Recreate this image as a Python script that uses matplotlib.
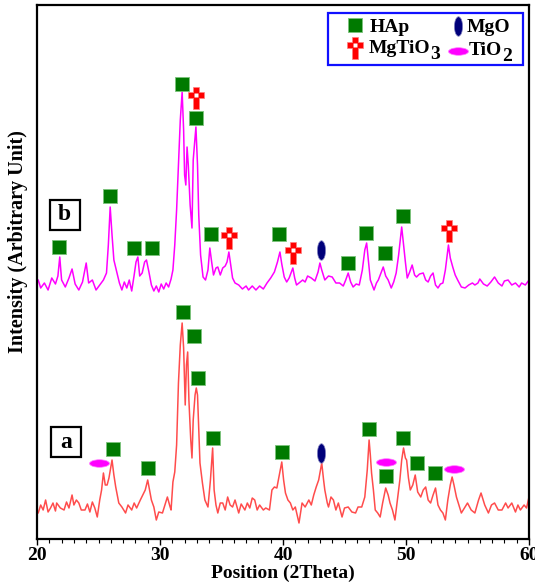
import matplotlib
matplotlib.use("Agg")
import matplotlib.pyplot as plt
from matplotlib.path import Path
from matplotlib.patches import Rectangle
import numpy as np

plt.rcParams["font.family"] = "serif"
plt.rcParams["font.serif"] = ["Liberation Serif", "DejaVu Serif"]
plt.rcParams["font.weight"] = "bold"
plt.rcParams["axes.labelweight"] = "bold"

# ---- pattern b (Mg/Ti doped) : 2theta, intensity above its own baseline ----
b_tt = [20.0, 20.1, 20.3, 20.6, 20.9, 21.2, 21.5, 21.7, 21.85, 22.0, 22.3, 22.6,
        22.85, 23.1, 23.4, 23.7, 24.0, 24.2, 24.5, 24.8, 25.1, 25.4, 25.65, 25.8,
        25.95, 26.1, 26.25, 26.5, 26.7, 26.9, 27.1, 27.3, 27.5, 27.7, 27.9, 28.05,
        28.2, 28.35, 28.55, 28.75, 28.9, 29.1, 29.3, 29.5, 29.7, 29.9, 30.1, 30.3,
        30.5, 30.7, 30.9, 31.05, 31.2, 31.35, 31.5, 31.65, 31.8, 31.92, 32.0, 32.1,
        32.2, 32.3, 32.45, 32.6, 32.7, 32.8, 32.92, 33.05, 33.15, 33.3, 33.5, 33.7,
        33.9, 34.05, 34.2, 34.35, 34.55, 34.7, 34.9, 35.1, 35.3, 35.45, 35.6, 35.75,
        35.9, 36.1, 36.4, 36.7, 37.0, 37.2, 37.5, 37.8, 38.1, 38.4, 38.7, 39.0,
        39.3, 39.55, 39.75, 39.9, 40.1, 40.3, 40.5, 40.8, 40.95, 41.1, 41.3, 41.6,
        41.8, 42.0, 42.3, 42.6, 42.85, 43.0, 43.15, 43.4, 43.7, 44.0, 44.3, 44.6,
        44.9, 45.1, 45.3, 45.5, 45.7, 45.95, 46.2, 46.45, 46.65, 46.8, 46.95, 47.1,
        47.4, 47.6, 47.75, 48.0, 48.15, 48.35, 48.55, 48.8, 49.0, 49.2, 49.4, 49.65,
        49.8, 49.95, 50.1, 50.3, 50.5, 50.7, 50.85, 51.1, 51.4, 51.6, 51.8, 52.0,
        52.2, 52.4, 52.6, 52.8, 53.0, 53.2, 53.45, 53.6, 53.8, 54.0, 54.2, 54.5,
        54.8, 55.1, 55.4, 55.6, 55.85, 56.0, 56.3, 56.6, 56.9, 57.2, 57.5, 57.8,
        58.0, 58.3, 58.6, 58.9, 59.2, 59.4, 59.7, 60.0]
b_int = [17, 20, 12, 17, 10, 22, 16, 24, 43, 20, 13, 22,
         31, 16, 10, 18, 37, 17, 20, 10, 15, 20, 27, 55,
         93, 65, 40, 27, 17, 10, 18, 12, 20, 9, 25, 38,
         43, 24, 27, 38, 40, 28, 15, 9, 14, 8, 16, 11,
         17, 13, 21, 30, 55, 90, 135, 180, 208, 170, 125, 115,
         153, 135, 95, 72, 140, 155, 173, 135, 85, 45, 23, 20,
         30, 52, 38, 25, 32, 33, 25, 32, 34, 38, 48, 35,
         22, 17, 15, 11, 14, 10, 14, 10, 14, 11, 17, 22,
         28, 38, 48, 36, 23, 18, 22, 32, 22, 15, 17, 20,
         18, 24, 22, 19, 28, 37, 30, 20, 24, 23, 17, 17,
         14, 20, 27, 18, 13, 16, 15, 30, 50, 57, 38, 20,
         10, 17, 20, 28, 33, 24, 20, 12, 18, 27, 45, 73,
         55, 38, 22, 28, 35, 25, 23, 26, 27, 20, 18, 24,
         27, 15, 12, 16, 17, 30, 55, 42, 33, 25, 20, 13,
         12, 15, 17, 15, 17, 21, 16, 14, 18, 23, 17, 14,
         19, 20, 15, 17, 13, 17, 15, 20]

# ---- pattern a ----
a_tt = [20.0, 20.1, 20.3, 20.5, 20.7, 20.9, 21.1, 21.3, 21.5, 21.6, 21.9, 22.2,
        22.4, 22.6, 22.85, 23.0, 23.2, 23.4, 23.6, 23.9, 24.1, 24.3, 24.5, 24.7,
        24.9, 25.1, 25.25, 25.4, 25.55, 25.7, 25.85, 26.1, 26.25, 26.4, 26.65, 26.9,
        27.2, 27.4, 27.7, 27.9, 28.1, 28.4, 28.6, 28.8, 29.0, 29.15, 29.3, 29.5,
        29.7, 29.9, 30.2, 30.4, 30.6, 30.8, 30.9, 31.05, 31.2, 31.35, 31.5, 31.65,
        31.8, 31.92, 32.05, 32.15, 32.25, 32.35, 32.5, 32.6, 32.7, 32.85, 32.95, 33.05,
        33.15, 33.25, 33.45, 33.65, 33.9, 34.1, 34.28, 34.4, 34.55, 34.7, 34.9, 35.1,
        35.3, 35.5, 35.7, 35.9, 36.1, 36.4, 36.6, 36.9, 37.1, 37.3, 37.5, 37.7,
        37.9, 38.1, 38.4, 38.6, 38.9, 39.1, 39.3, 39.5, 39.7, 39.9, 40.05, 40.2,
        40.4, 40.6, 40.8, 41.0, 41.3, 41.55, 41.8, 42.1, 42.3, 42.5, 42.7, 42.9,
        43.15, 43.3, 43.4, 43.6, 43.7, 43.9, 44.1, 44.3, 44.5, 44.8, 45.0, 45.3,
        45.6, 45.9, 46.1, 46.4, 46.65, 46.85, 47.0, 47.1, 47.2, 47.35, 47.5, 47.7,
        47.9, 48.1, 48.35, 48.55, 48.7, 48.9, 49.1, 49.3, 49.5, 49.65, 49.8, 49.95,
        50.05, 50.2, 50.35, 50.55, 50.75, 50.95, 51.2, 51.4, 51.6, 51.8, 52.0, 52.2,
        52.4, 52.6, 52.8, 53.0, 53.2, 53.4, 53.6, 53.75, 53.9, 54.1, 54.3, 54.5,
        54.8, 55.0, 55.3, 55.6, 55.9, 56.1, 56.4, 56.7, 56.95, 57.2, 57.5, 57.8,
        58.1, 58.3, 58.6, 58.9, 59.1, 59.3, 59.6, 59.8, 60.0]
a_int = [15, 12, 20, 15, 25, 13, 17, 22, 14, 22, 17, 15,
         23, 17, 30, 20, 25, 22, 15, 15, 21, 13, 23, 17,
         8, 25, 35, 52, 40, 40, 47, 65, 50, 38, 22, 18,
         12, 20, 15, 22, 17, 25, 30, 35, 45, 35, 25, 18,
         5, 13, 12, 20, 28, 19, 15, 43, 53, 80, 142, 180,
         202, 177, 120, 160, 173, 125, 85, 67, 105, 130, 137, 130,
         95, 62, 42, 25, 18, 45, 77, 35, 20, 12, 22, 22,
         15, 28, 20, 18, 25, 12, 21, 15, 22, 17, 27, 25,
         15, 20, 15, 17, 15, 35, 38, 37, 50, 63, 45, 32,
         25, 22, 15, 18, 2, 22, 18, 25, 20, 30, 38, 45,
         62, 45, 35, 22, 18, 28, 25, 15, 22, 8, 17, 18,
         13, 12, 18, 18, 28, 55, 85, 70, 52, 35, 15, 12,
         8, 22, 37, 30, 22, 15, 5, 25, 45, 65, 77, 67,
         65, 47, 35, 40, 50, 33, 28, 35, 38, 25, 22, 30,
         37, 20, 15, 12, 5, 25, 40, 48, 40, 28, 20, 12,
         18, 22, 15, 12, 25, 32, 20, 12, 20, 22, 15, 15,
         22, 17, 22, 13, 20, 15, 20, 17, 28]

# ---- phase markers: (2theta, height above baseline) ----
b_hap_tt = [21.76, 25.91, 27.91, 29.33, 31.81, 32.93, 34.12, 39.65, 45.31, 46.75, 48.29, 49.73]
b_hap_h = [53, 104, 52, 52, 216, 182, 66, 66, 37, 67, 47, 84]
b_mgtio3_tt = [32.93, 35.63, 40.81, 53.50]
b_mgtio3_h = [205, 65, 50, 72]
b_mgo_tt = [43.07]
b_mgo_h = [50]

a_hap_tt = [26.15, 29.0, 31.85, 32.79, 33.07, 34.28, 39.94, 46.99, 48.37, 49.78, 50.92, 52.36]
a_hap_h = [76, 57, 213, 189, 147, 87, 73, 96, 49, 87, 62, 52]
a_tio2_tt = [25.02, 48.35, 53.93]
a_tio2_h = [62, 63, 56]
a_mgo_tt = [43.09]
a_mgo_h = [72]

OFF_B, OFF_A = 239, 14
LINE_B, LINE_A = "#ff00ff", "#ff4c4c"
HAP_C, CROSS_C, MGO_C, TIO2_C = "#007a00", "#ff0000", "#00007a", "#ff00ff"

# marker shapes
sq_path = Path([(-0.55, -0.5), (0.55, -0.5), (0.55, 0.5), (-0.55, 0.5), (-0.55, -0.5)],
               [Path.MOVETO, Path.LINETO, Path.LINETO, Path.LINETO, Path.CLOSEPOLY])
cross_v = [(-0.5, 1.5), (0.5, 1.5), (0.5, 0.5), (1.5, 0.5), (1.5, -0.5), (0.5, -0.5),
           (0.5, -2.5), (-0.5, -2.5), (-0.5, -0.5), (-1.5, -0.5), (-1.5, 0.5),
           (-0.5, 0.5), (-0.5, 1.5)]
cross_path = Path(cross_v, [Path.MOVETO] + [Path.LINETO] * 11 + [Path.CLOSEPOLY])
circ = Path.unit_circle()
mgo_path = Path(circ.vertices * np.array([0.42, 1.0]), circ.codes)
tio2_path = Path(circ.vertices * np.array([1.0, 0.38]), circ.codes)


def hap(ax, x, y, **kw):
    ax.plot(x, y, ls="none", marker=sq_path, ms=10.4, mfc=HAP_C, mec="#7cc47c",
            mew=0.6, zorder=5, **kw)


def mgtio3(ax, x, y, **kw):
    ax.plot(x, y, ls="none", marker=cross_path, ms=19.5, mfc=CROSS_C, mec="#ff8080",
            mew=0.5, zorder=5, **kw)
    ax.plot(x, y, ls="none", marker="s", ms=3.0, mfc="white", mec="none", zorder=6, **kw)


def mgo(ax, x, y, **kw):
    ax.plot(x, y, ls="none", marker=mgo_path, ms=14.0, mfc=MGO_C, mec="#8080c0",
            mew=0.5, zorder=5, **kw)


def tio2(ax, x, y, **kw):
    ax.plot(x, y, ls="none", marker=tio2_path, ms=14.4, mfc=TIO2_C, mec="#ff80ff",
            mew=0.5, zorder=5, **kw)


fig = plt.figure(figsize=(5.35, 5.83), dpi=100)
ax = fig.add_axes([37 / 535, 1 - 539 / 583, 492 / 535, 534 / 583])

ax.plot(b_tt, np.array(b_int) + OFF_B, color=LINE_B, lw=1.1)
ax.plot(a_tt, np.array(a_int) + OFF_A, color=LINE_A, lw=1.1)

hap(ax, b_hap_tt, np.array(b_hap_h) + OFF_B)
mgtio3(ax, b_mgtio3_tt, np.array(b_mgtio3_h) + OFF_B)
mgo(ax, b_mgo_tt, np.array(b_mgo_h) + OFF_B)
hap(ax, a_hap_tt, np.array(a_hap_h) + OFF_A)
tio2(ax, a_tio2_tt, np.array(a_tio2_h) + OFF_A)
mgo(ax, a_mgo_tt, np.array(a_mgo_h) + OFF_A)

ax.set_xlim(20, 60)
ax.set_ylim(0, 534)
ax.set_yticks([])
ax.set_xticks([20, 30, 40, 50, 60])
ax.set_xticks(np.arange(20, 61, 1), minor=True)
ax.tick_params(axis="x", which="major", direction="out", length=4, width=1.0,
               labelsize=14, pad=2)
ax.tick_params(axis="x", which="minor", direction="out", length=3, width=0.8)
for s in ax.spines.values():
    s.set_linewidth(1.6)
ax.set_xlabel("Position (2Theta)", fontsize=14, labelpad=0)
ax.set_ylabel("Intensity (Arbitrary Unit)", fontsize=14.5)


def fx(px):
    return (px - 37) / 492


def fy(py):
    return (539 - py) / 534


ax.yaxis.set_label_coords(fx(28), fy(242))

# sample labels
for lab, x0, y0 in (("b", 49.7, 230), ("a", 51, 457.3)):
    ax.add_patch(Rectangle((fx(x0), fy(y0)), 30 / 492, 30 / 534, transform=ax.transAxes,
                           fc="white", ec="black", lw=1.6, zorder=4))
    ax.text(fx(x0 + 15), fy(y0 - 15), lab, transform=ax.transAxes, ha="center",
            va="center", fontsize=17, zorder=5)

# legend box
ax.add_patch(Rectangle((fx(328.3), fy(65)), 195 / 492, 52.3 / 534, transform=ax.transAxes,
                       fc="white", ec="#1010ff", lw=1.6, zorder=4))
tr = ax.transAxes
hap(ax, [fx(355)], [fy(24.5)], transform=tr)
mgo(ax, [fx(458.3)], [fy(25.5)], transform=tr)
mgtio3(ax, [fx(355.3)], [fy(45)], transform=tr)
tio2(ax, [fx(458.3)], [fy(50.7)], transform=tr)
ax.text(fx(370), fy(31.7), "HAp", transform=tr, fontsize=14, va="baseline", zorder=6)
ax.text(fx(466.7), fy(31.7), "MgO", transform=tr, fontsize=14, va="baseline", zorder=6)
t1 = ax.text(fx(368.3), fy(53.3), "MgTiO", transform=tr, fontsize=14, va="baseline", zorder=6)
t2 = ax.text(fx(469), fy(55), "TiO", transform=tr, fontsize=14, va="baseline", zorder=6)
ax.annotate("3", xy=(1, 0), xycoords=t1, xytext=(0, -4), textcoords="offset points",
            fontsize=14, va="bottom", ha="left", zorder=6)
ax.annotate("2", xy=(1, 0), xycoords=t2, xytext=(0, -4), textcoords="offset points",
            fontsize=14, va="bottom", ha="left", zorder=6)

fig.savefig("out.png", dpi=100)
